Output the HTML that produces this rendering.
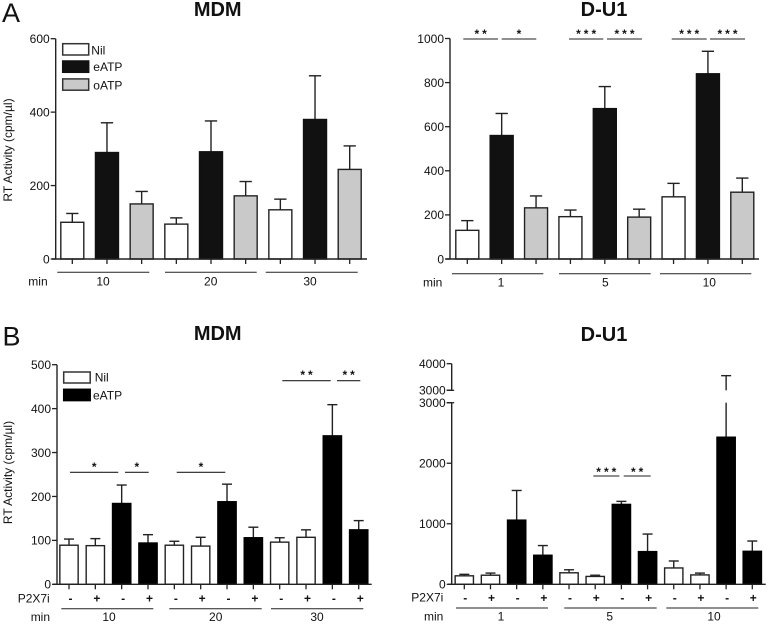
<!DOCTYPE html>
<html lang="en">
<head>
<meta charset="utf-8">
<title>RT Activity bar charts</title>
<style>
html,body{margin:0;padding:0;background:#fff;}
#figure{display:block;width:768px;height:624px;filter:blur(0.3px);}
text{font-family:"Liberation Sans",Arial,sans-serif;fill:#111;}
</style>
</head>
<body>
<svg id="figure" xmlns="http://www.w3.org/2000/svg" width="768" height="624" viewBox="0 0 768 624"></svg>
<script>
// ---- Panel A, MDM ----
var aMdmTicks = [0, 200, 400, 600];
var aMdmGroups = ['10', '20', '30'];
var aMdmMeans = [100, 290, 150, 95, 292, 172, 134, 380, 244];
var aMdmTops = [124, 371, 184, 112, 376, 211, 163, 499, 308];
// ---- Panel A, D-U1 ----
var aDu1Ticks = [0, 200, 400, 600, 800, 1000];
var aDu1Groups = ['1', '5', '10'];
var aDu1Means = [130, 560, 232, 192, 682, 190, 282, 840, 303];
var aDu1Tops = [174, 660, 286, 222, 782, 226, 343, 942, 367];
// ---- Panel B, MDM ----
var bMdmTicks = [0, 100, 200, 300, 400, 500];
var bMdmGroups = ['10', '20', '30'];
var bMdmMeans = [89, 88, 184, 94, 89, 87, 188, 106, 96, 107, 338, 124];
var bMdmTops = [103, 104, 226, 113, 98, 107, 228, 130, 106, 124, 409, 145];
// ---- Panel B, D-U1 ----
var bDu1Ticks = [0, 1000, 2000, 3000];
var bDu1UpperTicks = [3000, 4000];
var bDu1Groups = ['1', '5', '10'];
var bDu1Means = [140, 150, 1060, 480, 190, 130, 1320, 540, 270, 155, 2430, 545];
var bDu1Tops = [165, 185, 1550, 640, 240, 150, 1370, 830, 385, 185, 3550, 715];
// ---- Shared categories ----
var tripleSeries = ['Nil', 'eATP', 'oATP'];
var doubleSeries = ['Nil', 'Nil', 'eATP', 'eATP'];
var inhibitorSigns = ['-', '+', '-', '+'];

var svg = document.getElementById('figure');
var NS = 'http://www.w3.org/2000/svg';
var FILLS = {Nil: '#ffffff', eATP: '#111111', oATP: '#c9c9c9'};
var INK = '#222222';

function add(tag, attrs, name, parent) {
  var el = document.createElementNS(NS, tag);
  for (var k in attrs) { el.setAttribute(k, attrs[k]); }
  
  
  (parent || svg).appendChild(el);
  return el;
}
function line(x1, y1, x2, y2, name, w, parent) {
  return add('line', {x1: x1, y1: y1, x2: x2, y2: y2, stroke: INK, 'stroke-width': w || 1.3}, name, parent);
}
function label(x, y, str, name, opts, parent) {
  var a = {x: x, y: y, 'font-size': 12};
  for (var k in (opts || {})) { a[k] = opts[k]; }
  var el = add('text', a, name, parent);
  el.textContent = str;
  return el;
}
function linear(d0, d1, r0, r1) {
  return function (v) { return r0 + (v - d0) * (r1 - r0) / (d1 - d0); };
}
function yAxis(g, axisX, scale, ticks, topY, bottomY, prefix) {
  line(axisX, topY, axisX, bottomY, prefix + '-y-axis', 1.4, g);
  ticks.forEach(function (t) {
    var y = scale(t);
    line(axisX - 5, y, axisX, y, prefix + '-y-tick', 1.3, g);
    label(axisX - 6, y + 4.3, String(t), prefix + '-y-tick-label', {'text-anchor': 'end'}, g);
  });
}
function barFill(series, prefix) {
  return (series === 'eATP' && prefix.charAt(0) === 'b') ? '#000000' : FILLS[series];
}
function bars(g, x, y, y0, means, tops, width, capW, seriesFor, prefix, breakAt, breakGapTop) {
  means.forEach(function (m, i) {
    var cx = x(i), top = tops[i], yBar = y(m), yTop = y(top);
    if (breakAt !== undefined && top > breakAt) {
      line(cx, yBar, cx, y(breakAt), prefix + '-error-stem', 1.4, g);
      line(cx, breakGapTop, cx, yTop, prefix + '-error-stem-upper', 1.4, g);
    } else {
      line(cx, yBar, cx, yTop, prefix + '-error-stem', 1.4, g);
    }
    line(cx - capW / 2, yTop, cx + capW / 2, yTop, prefix + '-error-cap', 1.4, g);
    var s = seriesFor(i);
    add('rect', {x: cx - width / 2, y: yBar, width: width, height: y0 - yBar,
      fill: barFill(s, prefix), stroke: s === 'eATP' ? barFill(s, prefix) : INK, 'stroke-width': 1.4},
      prefix + '-bar-' + s.toLowerCase() + '-' + i, g);
    line(cx, y0, cx, y0 + 5, prefix + '-x-tick', 1.3, g);
  });
}
function sig(g, x1, x2, y, starY, stars, name) {
  line(x1, y, x2, y, name + '-line', 1.1, g);
  label((x1 + x2) / 2 + 1.5, starY + 6.2, stars, name + '-stars',
    {'text-anchor': 'middle', 'font-weight': 'bold', 'font-size': 12, 'letter-spacing': 3}, g);
}
function legendBox(g, x, y, w, h, series, prefix, name) {
  add('rect', {x: x, y: y, width: w, height: h, fill: barFill(series, prefix),
    stroke: series === 'eATP' ? barFill(series, prefix) : '#333', 'stroke-width': 1.5}, name, g);
}
function group(name) { return add('g', {}, name); }

/* Panel letters + titles */
label(2, 22, 'A', 'panel-a-letter', {'font-size': 27});
label(2.5, 345.5, 'B', 'panel-b-letter', {'font-size': 27});
label(217.7, 16, 'MDM', 'panel-a-mdm-title', {'font-size': 20, 'font-weight': 'bold', 'text-anchor': 'middle'});
label(604, 16, 'D-U1', 'panel-a-du1-title', {'font-size': 20, 'font-weight': 'bold', 'text-anchor': 'middle'});
label(217.7, 340, 'MDM', 'panel-b-mdm-title', {'font-size': 20, 'font-weight': 'bold', 'text-anchor': 'middle'});
label(604, 341, 'D-U1', 'panel-b-du1-title', {'font-size': 20, 'font-weight': 'bold', 'text-anchor': 'middle'});
label(0, 0, 'RT Activity (cpm/µl)', 'panel-a-y-axis-title', {'text-anchor': 'middle', transform: 'translate(12,150) rotate(-90)', 'font-size': 12});
label(0, 0, 'RT Activity (cpm/µl)', 'panel-b-y-axis-title', {'text-anchor': 'middle', transform: 'translate(12,472.5) rotate(-90)', 'font-size': 12});

/* Panel A MDM */
(function () {
  var g = group('panel-a-mdm-chart'), p = 'a-mdm', y0 = 259;
  var y = linear(0, 600, y0, 38.7);
  var x = linear(0, 8, 72.3, 349.7);
  yAxis(g, 55.7, y, aMdmTicks, y(600), y0, p);
  bars(g, x, y, y0, aMdmMeans, aMdmTops, 23, 12.3, function (i) { return tripleSeries[i % 3]; }, p);
  line(52, y0, 367, y0, p + '-x-axis', 1.4, g);
  legendBox(g, 62.7, 43.7, 26, 11.3, 'Nil', p, p + '-legend-nil-swatch');
  legendBox(g, 62.7, 61, 26, 11.3, 'eATP', p, p + '-legend-eatp-swatch');
  legendBox(g, 62.7, 78.9, 26, 11.3, 'oATP', p, p + '-legend-oatp-swatch');
  label(91.3, 54.5, tripleSeries[0], p + '-legend-nil', {}, g);
  label(93.3, 71.2, tripleSeries[1], p + '-legend-eatp', {}, g);
  label(93.3, 89.3, tripleSeries[2], p + '-legend-oatp', {}, g);
  line(57.3, 272.3, 149.3, 272.3, p + '-group-line-1', 1, g);
  line(165, 272.3, 256.7, 272.3, p + '-group-line-2', 1, g);
  line(265.7, 272.3, 357.7, 272.3, p + '-group-line-3', 1, g);
  label(28.3, 285.7, 'min', p + '-min-label', {}, g);
  var cx = [103, 210.7, 310];
  aMdmGroups.forEach(function (t, i) { label(cx[i], 285.7, t, p + '-group-label', {'text-anchor': 'middle'}, g); });
})();

/* Panel A D-U1 */
(function () {
  var g = group('panel-a-du1-chart'), p = 'a-du1', y0 = 259;
  var y = linear(0, 1000, y0, 38.5);
  var x = linear(0, 8, 467.3, 742.3);
  yAxis(g, 450, y, aDu1Ticks, y(1000), y0, p);
  bars(g, x, y, y0, aDu1Means, aDu1Tops, 23, 12.3, function (i) { return tripleSeries[i % 3]; }, p);
  line(446, y0, 759, y0, p + '-x-axis', 1.4, g);
  sig(g, 463.3, 498, 39, 32, '**', p + '-sig-1');
  sig(g, 501.7, 536.3, 39, 32, '*', p + '-sig-2');
  sig(g, 569, 603.3, 39, 32, '***', p + '-sig-3');
  sig(g, 607, 642, 39, 32, '***', p + '-sig-4');
  sig(g, 671.7, 706.7, 39, 32, '***', p + '-sig-5');
  sig(g, 710, 745, 39, 32, '***', p + '-sig-6');
  line(452, 273.7, 543.3, 273.7, p + '-group-line-1', 1, g);
  line(559, 273.7, 650.7, 273.7, p + '-group-line-2', 1, g);
  line(660, 273.7, 751.3, 273.7, p + '-group-line-3', 1, g);
  label(423, 286.7, 'min', p + '-min-label', {}, g);
  var cx = [501, 605.3, 709.3];
  aDu1Groups.forEach(function (t, i) { label(cx[i], 286.7, t, p + '-group-label', {'text-anchor': 'middle'}, g); });
})();

/* Panel B MDM */
(function () {
  var g = group('panel-b-mdm-chart'), p = 'b-mdm', y0 = 584.3;
  var y = linear(0, 500, y0, 364.7);
  var x = linear(0, 11, 69, 358.7);
  yAxis(g, 57, y, bMdmTicks, y(500), y0, p);
  bars(g, x, y, y0, bMdmMeans, bMdmTops, 18.3, 10, function (i) { return doubleSeries[i % 4]; }, p);
  line(53, y0, 371.7, y0, p + '-x-axis', 1.4, g);
  legendBox(g, 63.7, 372, 26.5, 11, 'Nil', p, p + '-legend-nil-swatch');
  legendBox(g, 63.7, 389.3, 26.5, 11.3, 'eATP', p, p + '-legend-eatp-swatch');
  label(94.7, 381.7, 'Nil', p + '-legend-nil', {}, g);
  label(93, 399.7, 'eATP', p + '-legend-eatp', {}, g);
  sig(g, 70, 118.3, 472.3, 465, '*', p + '-sig-1');
  sig(g, 125, 148.7, 472.3, 465, '*', p + '-sig-2');
  sig(g, 176.7, 225.3, 472.3, 465, '*', p + '-sig-3');
  sig(g, 282.3, 330.7, 380.7, 373, '**', p + '-sig-4');
  sig(g, 337, 360.3, 380.7, 373, '**', p + '-sig-5');
  label(17.7, 602.3, 'P2X7i', p + '-p2x7i-label', {}, g);
  bMdmMeans.forEach(function (m, i) {
    label(x(i) + 1.5, 602.6, inhibitorSigns[i % 4], p + '-p2x7i-sign', {'text-anchor': 'middle', 'font-weight': 'bold'}, g);
  });
  line(61.3, 608.7, 153.3, 608.7, p + '-group-line-1', 1, g);
  line(169.3, 608.7, 261.7, 608.7, p + '-group-line-2', 1, g);
  line(271, 608.7, 363.3, 608.7, p + '-group-line-3', 1, g);
  label(30.7, 621, 'min', p + '-min-label', {}, g);
  var cx = [109, 215.7, 317];
  bMdmGroups.forEach(function (t, i) { label(cx[i], 621, t, p + '-group-label', {'text-anchor': 'middle'}, g); });
})();

/* Panel B D-U1 (broken axis) */
(function () {
  var g = group('panel-b-du1-chart'), p = 'b-du1', y0 = 584.3, axisX = 451.7;
  var lower = linear(0, 3000, y0, 402.7);
  var upper = linear(3000, 4000, 390.3, 363.7);
  var y = function (v) { return v <= 3000 ? lower(v) : upper(v); };
  var x = linear(0, 11, 464.3, 752.3);
  yAxis(g, axisX, lower, bDu1Ticks, lower(3000), y0, p);
  line(axisX - 5, lower(3000), axisX + 2.5, lower(3000), p + '-y-break-tick-lower', 1.3, g);
  line(axisX, upper(4000), axisX, upper(3000), p + '-y-axis-upper', 1.4, g);
  line(axisX - 5, upper(3000), axisX + 2.5, upper(3000), p + '-y-break-tick-upper', 1.3, g);
  bDu1UpperTicks.forEach(function (t) {
    line(axisX - 5, upper(t), axisX, upper(t), p + '-y-tick-upper', 1.3, g);
    label(axisX - 6, upper(t) + 4.3, String(t), p + '-y-tick-label-upper', {'text-anchor': 'end'}, g);
  });
  bars(g, x, y, y0, bDu1Means, bDu1Tops, 18.3, 10, function (i) { return doubleSeries[i % 4]; }, p, 3000, upper(3000));
  line(448, y0, 765.7, y0, p + '-x-axis', 1.4, g);
  sig(g, 593.3, 619.3, 476, 469.7, '***', p + '-sig-1');
  sig(g, 623.7, 650.7, 476, 469.7, '**', p + '-sig-2');
  label(411.3, 601.5, 'P2X7i', p + '-p2x7i-label', {}, g);
  bDu1Means.forEach(function (m, i) {
    label(x(i) + 1, 601.8, inhibitorSigns[i % 4], p + '-p2x7i-sign', {'text-anchor': 'middle', 'font-weight': 'bold'}, g);
  });
  line(456, 608, 548, 608, p + '-group-line-1', 1, g);
  line(564.3, 608, 656.7, 608, p + '-group-line-2', 1, g);
  line(666.3, 608, 758.3, 608, p + '-group-line-3', 1, g);
  label(424, 620.7, 'min', p + '-min-label', {}, g);
  var cx = [501, 609.7, 714];
  bDu1Groups.forEach(function (t, i) { label(cx[i], 620.7, t, p + '-group-label', {'text-anchor': 'middle'}, g); });
})();
</script>
</body>
</html>
